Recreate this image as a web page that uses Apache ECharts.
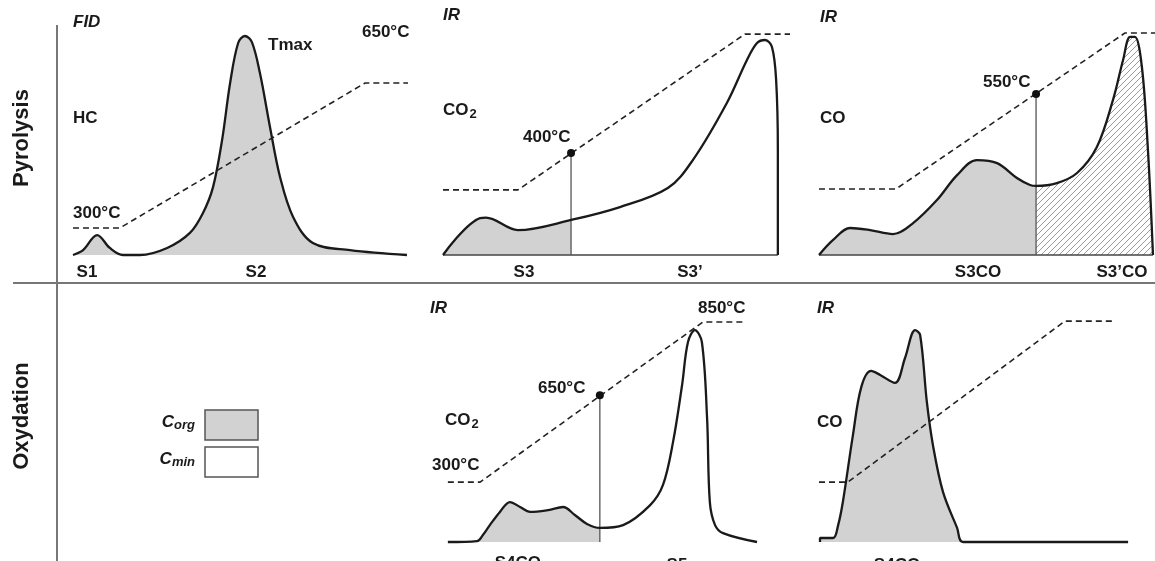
<!DOCTYPE html>
<html>
<head>
<meta charset="utf-8">
<script src="https://cdn.jsdelivr.net/npm/echarts@6/dist/echarts.min.js"></script>
<style>
html, body {margin: 0; padding: 0; background: #fff;}
#main {width: 1155px; height: 561px;}
</style>
</head>
<body>
<div id="main"></div>
<script>
// x = relative run time across each panel (0-100), y = detector signal (0-100)

// pyrolysis, FID (HC): S1 + S2
var fidCurve = [[0,0],[3.0,2.1],[7.2,8.5],[11.0,3.0],[14.9,0],[20.0,0],[28.1,3.0],[34.9,9.4],[38.8,17.9],[41.8,28.9],
    [44.5,48.9],[46.9,73.2],[49.3,90.2],[51.3,93.2],[53.4,90.6],[55.8,77.4],[58.8,54.5],[61.8,33.2],[65.7,16.2],
    [71.6,5.1],[82.7,2.1],[99.7,0]];
var fidRamp = [[0,11.5],[14.0,11.5],[87.2,73.2],[100,73.2]];

// pyrolysis, IR (CO2): S3 / S3'
var co2PyroCurve = [[0,0],[10.7,15.7],[12.4,15.9],[21.6,10.6],[36.9,14.9],[51.0,20.4],[64.8,28.5],[72.0,40.4],
    [81.8,64.7],[87.6,83.0],[90.5,90.2],[92.8,91.5],[94.8,88.5],[96.0,74.5],[96.5,44.7],[96.5,0]];
var co2PyroRamp = [[0,27.7],[21.6,27.7],[87.0,94.0],[100,94.0]];
var co2PyroCut = [36.9, 43.4];
var co2PyroBase = [[0,0],[96.5,0]];

// pyrolysis, IR (CO): S3CO / S3'CO
var coPyroCurve = [[0,0],[4.2,6.4],[9.2,11.5],[15.2,10.6],[22.0,8.9],[28.0,13.6],[35.1,23.4],[41.1,34.0],[47.0,40.4],
    [53.0,39.1],[58.9,32.8],[62.8,29.8],[64.6,29.4],[70.8,30.6],[76.8,34.9],[82.7,46.0],[87.5,66.0],[90.5,83.0],
    [92.6,92.8],[94.0,92.8],[96.1,80.0],[97.9,44.7],[99.4,0]];
var coPyroRamp = [[0,28.1],[22.9,28.1],[91.1,94.5],[100,94.5]];
var coPyroCut = [64.6, 68.5];
var coPyroBase = [[0,0],[99.4,0]];

// oxydation, IR (CO2): S4CO2 / S5
var co2OxyCurve = [[1.4,0],[9.8,0.4],[11.5,3.0],[13.5,7.2],[16.4,12.8],[19.3,17.0],[22.2,14.9],[25.1,12.8],[30.3,13.6],
    [34.6,14.9],[38.0,11.5],[41.5,7.7],[45.2,6.0],[51.9,7.2],[59.7,15.7],[63.4,24.3],[66.3,42.6],[68.9,66.8],
    [70.6,85.1],[72.6,90.2],[74.6,85.1],[76.1,52.8],[76.9,17.0],[78.4,7.2],[80.7,3.8],[90.5,0]];
var co2OxyRamp = [[1.4,25.5],[10.7,25.5],[74.9,93.6],[86.5,93.6]];
var co2OxyCut = [45.2, 62.5];

// oxydation, IR (CO): S4CO
var coOxyCurve = [[0.3,0],[0.3,1.7],[4.2,1.7],[5.7,7.2],[7.1,17.0],[10.1,45.5],[12.6,66.0],[15.5,72.8],[18.2,71.1],
    [22.6,67.7],[25.6,78.3],[28.6,90.2],[30.1,88.1],[32.1,59.6],[33.9,41.3],[36.9,21.3],[41.1,6.0],[42.9,0],[92.0,0]];
var coOxyRamp = [[0,25.5],[8.6,25.5],[73.2,94.0],[87.5,94.0]];

var GRAY = '#d2d2d2';
var INK = '#1a1a1a';
var FS = 17;

function hatchPattern() {
    var c = document.createElement('canvas');
    c.width = 6; c.height = 6;
    var ctx = c.getContext('2d');
    ctx.fillStyle = '#fff';
    ctx.fillRect(0, 0, 6, 6);
    ctx.strokeStyle = '#9a9a9a';
    ctx.lineWidth = 1;
    ctx.beginPath();
    ctx.moveTo(-1, 7); ctx.lineTo(7, -1);
    ctx.moveTo(-4, 4); ctx.lineTo(4, -4);
    ctx.moveTo(2, 10); ctx.lineTo(10, 2);
    ctx.stroke();
    return {image: c, repeat: 'repeat'};
}

function upTo(data, x) {
    return data.filter(function (p) { return p[0] <= x; });
}
function from(data, x) {
    return data.filter(function (p) { return p[0] >= x; });
}

function fill(idx, data, color) {
    return {
        type: 'line', xAxisIndex: idx, yAxisIndex: idx, data: data,
        smooth: 0.35, symbol: 'none', clip: false, silent: true, z: 1,
        lineStyle: {opacity: 0},
        areaStyle: {color: color, opacity: 1}
    };
}
function outline(idx, data) {
    return {
        type: 'line', xAxisIndex: idx, yAxisIndex: idx, data: data,
        smooth: 0.35, symbol: 'none', clip: false, silent: true, z: 5,
        lineStyle: {color: INK, width: 2.3}
    };
}
function straight(idx, data, w, c) {
    return {
        type: 'line', xAxisIndex: idx, yAxisIndex: idx, data: data,
        symbol: 'none', clip: false, silent: true, z: 4,
        lineStyle: {color: c, width: w}
    };
}
function ramp(idx, data) {
    return {
        type: 'line', xAxisIndex: idx, yAxisIndex: idx, data: data,
        symbol: 'none', clip: false, silent: true, z: 3,
        lineStyle: {color: '#222', width: 1.6, type: [6, 4]}
    };
}
function cut(idx, pt) {
    return {
        type: 'line', xAxisIndex: idx, yAxisIndex: idx,
        data: [[pt[0], 0], {value: pt, symbol: 'circle', symbolSize: 8}],
        symbol: 'none', clip: false, silent: true, z: 4,
        itemStyle: {color: '#111'},
        lineStyle: {color: '#555', width: 1.3}
    };
}

function label(text, x, y, opt) {
    opt = opt || {};
    return {
        type: 'text', x: x, y: y, silent: true, rotation: opt.rotation || 0,
        style: {
            text: text, fill: INK,
            font: (opt.italic ? 'italic ' : '') + 'bold ' + (opt.size || FS) + 'px "Liberation Sans", Arial, sans-serif',
            align: opt.align || 'left', verticalAlign: 'middle',
            rich: opt.rich
        }
    };
}
var subRich = {
    a: {fontSize: FS, fontWeight: 'bold', fontFamily: 'Liberation Sans', fill: INK},
    b: {fontSize: 13, fontWeight: 'bold', fontFamily: 'Liberation Sans', fill: INK, padding: [8, 0, 0, 1]}
};
var legRich = {
    a: {fontSize: FS, fontWeight: 'bold', fontStyle: 'italic', fontFamily: 'Liberation Sans', fill: INK},
    b: {fontSize: 13, fontWeight: 'bold', fontStyle: 'italic', fontFamily: 'Liberation Sans', fill: INK, padding: [7, 0, 0, 0]}
};

var chart = echarts.init(document.getElementById('main'));

var grids = [
    {left: 73, top: 20, width: 335, height: 235},
    {left: 443, top: 20, width: 347, height: 235},
    {left: 819, top: 20, width: 336, height: 235},
    {left: 443, top: 307, width: 347, height: 235},
    {left: 819, top: 307, width: 336, height: 235}
];
var xAxes = [], yAxes = [];
for (var i = 0; i < grids.length; i++) {
    xAxes.push({type: 'value', gridIndex: i, min: 0, max: 100, show: false});
    yAxes.push({type: 'value', gridIndex: i, min: 0, max: 100, show: false});
}

var option = {
    animation: false,
    backgroundColor: '#fff',
    grid: grids,
    xAxis: xAxes,
    yAxis: yAxes,
    series: [
        fill(0, fidCurve, GRAY), ramp(0, fidRamp), outline(0, fidCurve),

        fill(1, upTo(co2PyroCurve, co2PyroCut[0]), GRAY), ramp(1, co2PyroRamp),
        straight(1, co2PyroBase, 1.6, '#444'), cut(1, co2PyroCut), outline(1, co2PyroCurve),

        fill(2, upTo(coPyroCurve, coPyroCut[0]), GRAY), fill(2, from(coPyroCurve, coPyroCut[0]), hatchPattern()),
        ramp(2, coPyroRamp), straight(2, coPyroBase, 1.6, '#444'), cut(2, coPyroCut), outline(2, coPyroCurve),

        fill(3, upTo(co2OxyCurve, co2OxyCut[0]), GRAY), ramp(3, co2OxyRamp), cut(3, co2OxyCut), outline(3, co2OxyCurve),

        fill(4, coOxyCurve, GRAY), ramp(4, coOxyRamp), outline(4, coOxyCurve)
    ],
    graphic: [
        // frame dividers
        {type: 'line', silent: true, shape: {x1: 13, y1: 283, x2: 1155, y2: 283}, style: {stroke: '#777', lineWidth: 2}},
        {type: 'line', silent: true, shape: {x1: 57, y1: 25, x2: 57, y2: 561}, style: {stroke: '#777', lineWidth: 2}},
        label('Pyrolysis', 22, 138, {size: 22, align: 'center', rotation: Math.PI / 2}),
        label('Oxydation', 22, 416, {size: 22, align: 'center', rotation: Math.PI / 2}),

        // FID panel
        label('FID', 73, 22, {italic: true}),
        label('HC', 73, 118),
        label('300°C', 73, 213),
        label('Tmax', 268, 45),
        label('650°C', 362, 32),
        label('S1', 87, 272, {align: 'center'}),
        label('S2', 256, 272, {align: 'center'}),

        // CO2 pyrolysis
        label('IR', 443, 15, {italic: true}),
        label('{a|CO}{b|2}', 443, 110, {rich: subRich}),
        label('400°C', 523, 137),
        label('S3', 524, 272, {align: 'center'}),
        label('S3’', 690, 272, {align: 'center'}),

        // CO pyrolysis
        label('IR', 820, 17, {italic: true}),
        label('CO', 820, 118),
        label('550°C', 983, 82),
        label('S3CO', 978, 272, {align: 'center'}),
        label('S3’CO', 1122, 272, {align: 'center'}),

        // CO2 oxydation
        label('IR', 430, 308, {italic: true}),
        label('850°C', 698, 308),
        label('650°C', 538, 388),
        label('{a|CO}{b|2}', 445, 420, {rich: subRich}),
        label('300°C', 432, 465),
        label('{a|S4CO}{b|2}', 522, 563, {align: 'center', rich: subRich}),
        label('S5', 677, 565, {align: 'center'}),

        // CO oxydation
        label('IR', 817, 308, {italic: true}),
        label('CO', 817, 422),
        label('S4CO', 897, 565, {align: 'center'}),

        // legend
        {type: 'rect', silent: true, shape: {x: 205, y: 410, width: 53, height: 30}, style: {fill: GRAY, stroke: '#555', lineWidth: 1.5}},
        {type: 'rect', silent: true, shape: {x: 205, y: 447, width: 53, height: 30}, style: {fill: '#fff', stroke: '#555', lineWidth: 1.5}},
        label('{a|C}{b|org}', 195, 422, {align: 'right', rich: legRich}),
        label('{a|C}{b|min}', 195, 459, {align: 'right', rich: legRich})
    ]
};
chart.setOption(option);
</script>
</body>
</html>
